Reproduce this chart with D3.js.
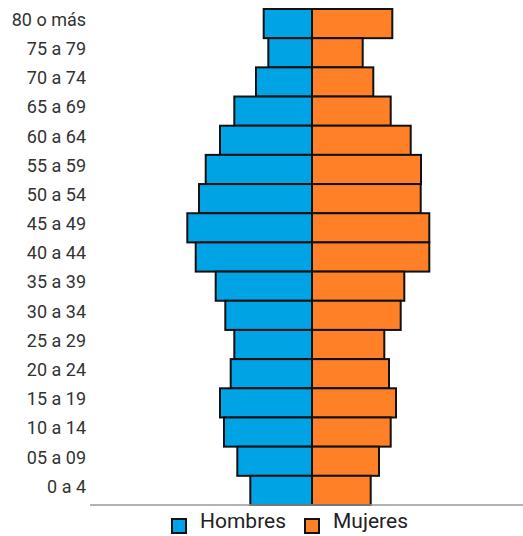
<!DOCTYPE html>
<html><head><meta charset="utf-8">
<script src="https://cdn.jsdelivr.net/npm/d3@7"></script>
<style>body{margin:0;background:#fff}svg{display:block}</style>
</head><body>
<svg id="c" width="523" height="536"></svg>
<script>
const categories = ["80 o más","75 a 79","70 a 74","65 a 69","60 a 64","55 a 59","50 a 54","45 a 49","40 a 44","35 a 39","30 a 34","25 a 29","20 a 24","15 a 19","10 a 14","05 a 09","0 a 4"];
const hombres = [48.3,43.7,56,77.7,92,106.3,113,124.7,116.3,96.3,86.7,77.7,81.3,92,88,74.7,61.7];
const mujeres = [80.3,50.7,61.3,78.7,98.7,109,108.7,117.3,117.3,92.3,88.7,72.3,77,84,78.7,67,58.7];
const seriesNames = ["Hombres","Mujeres"];
const colors = ["#00a3e4","#ff8026"];

const svg = d3.select("#c");
const x = d3.scaleLinear().domain([-222, 211]).range([90, 523]);
const y = d3.scaleBand().domain(categories).range([9, 505]).padding(0);

const g = svg.append("g");
categories.forEach((c,i)=>{
  g.append("rect").attr("x", x(-hombres[i])).attr("y", y(c))
   .attr("width", x(0)-x(-hombres[i])).attr("height", y.bandwidth())
   .attr("fill", colors[0]).attr("stroke","#111").attr("stroke-width",2);
  g.append("rect").attr("x", x(0)).attr("y", y(c))
   .attr("width", x(mujeres[i])-x(0)).attr("height", y.bandwidth())
   .attr("fill", colors[1]).attr("stroke","#111").attr("stroke-width",2);
});

const yAxis = d3.axisLeft(y).tickSize(0).tickPadding(0);
const ga = svg.append("g").attr("transform","translate(86,-3.5)").call(yAxis);
ga.select(".domain").remove();
ga.selectAll("text").attr("font-family","Roboto, sans-serif").attr("font-size",18).attr("fill","#333");

svg.append("line").attr("x1",90).attr("x2",523).attr("y1",505).attr("y2",505)
  .attr("stroke","#999").attr("stroke-width",1.5);

const leg = svg.append("g");
const legX = [172, 305];
seriesNames.forEach((n,i)=>{
  leg.append("rect").attr("x",legX[i]).attr("y",519).attr("width",14).attr("height",14)
    .attr("fill",colors[i]).attr("stroke","#111").attr("stroke-width",2);
  leg.append("text").attr("x",legX[i]+28).attr("y",528)
    .attr("font-family","Roboto, sans-serif").attr("font-size",21).attr("fill","#222").text(n);
});
</script>
</body></html>
